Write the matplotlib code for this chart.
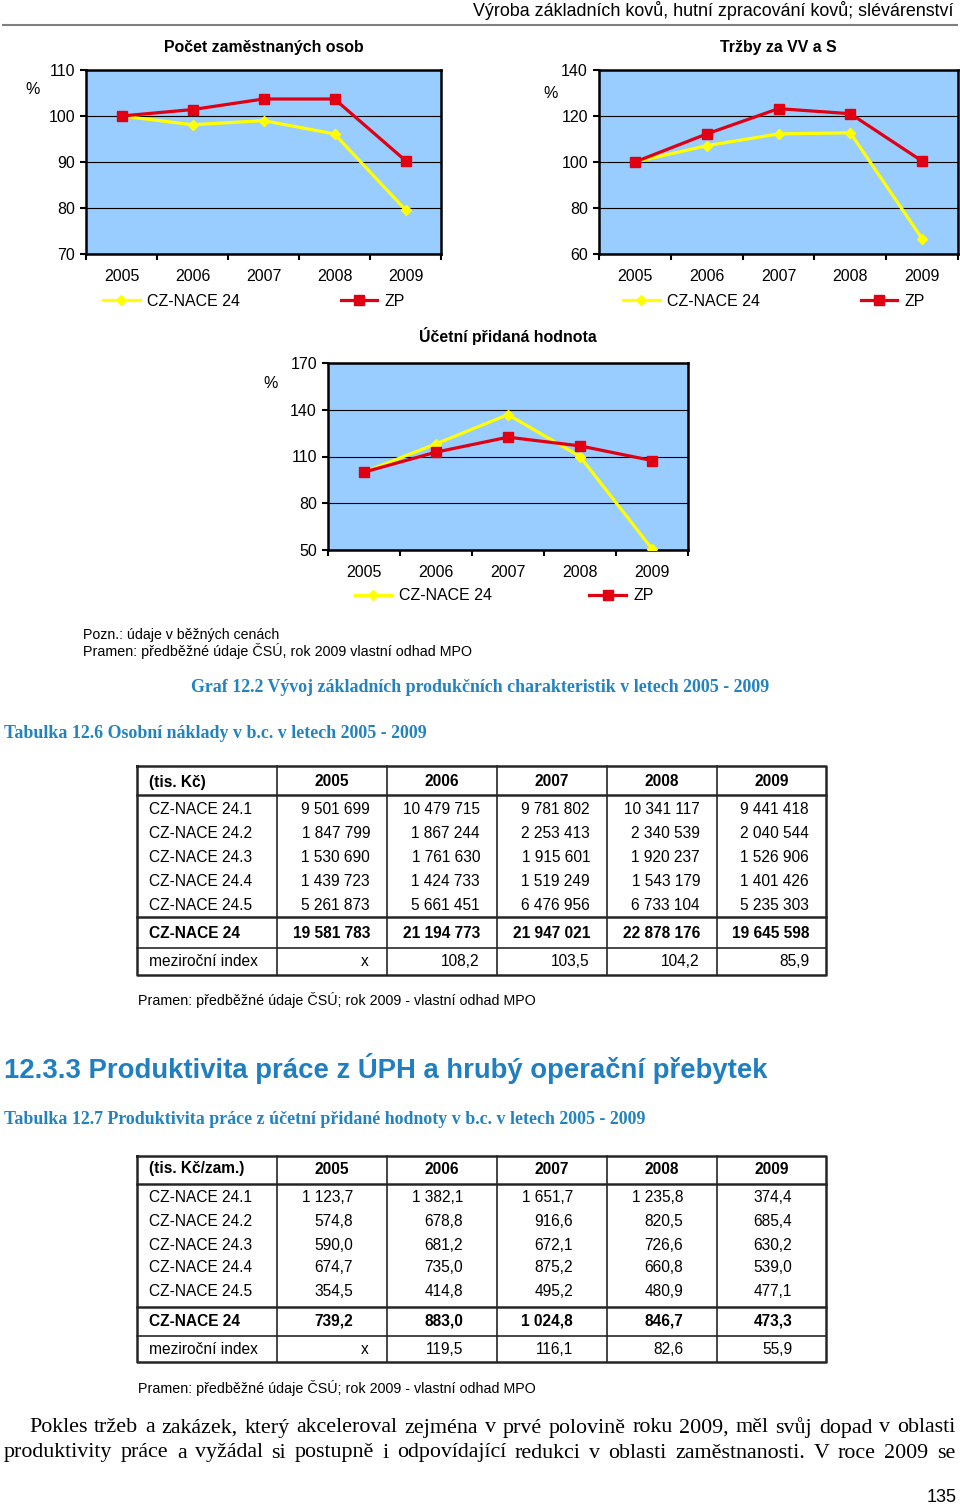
"""
Page 135 rebuild: three index charts (employment, revenue, value added) for CZ-NACE 24,
followed by two tables of personal costs and labour productivity.
"""

import numpy as np
import matplotlib
matplotlib.use("Agg")
import matplotlib.pyplot as plt

plt.rcParams["font.family"] = ["Liberation Sans", "DejaVu Sans"]

W, H, DPI = 960, 1508, 100

years = ["2005", "2006", "2007", "2008", "2009"]

# chart values (index, 2005 = 100)
emp_cz = [100.0, 98.1, 99.0, 96.1, 79.6]
emp_zp = [100.0, 101.4, 103.7, 103.7, 90.3]
rev_cz = [100.0, 107.1, 112.2, 112.7, 66.7]
rev_zp = [100.0, 112.2, 123.2, 121.0, 100.4]
va_cz = [100.0, 118.1, 136.9, 110.0, 50.8]
va_zp = [100.0, 112.8, 122.4, 116.8, 107.4]

emp_ticks = [70, 80, 90, 100, 110]
rev_ticks = [60, 80, 100, 120, 140]
va_ticks = [50, 80, 110, 140, 170]

# table 12.6 (tis. Kc)
t1_rows = ["CZ-NACE 24.1", "CZ-NACE 24.2", "CZ-NACE 24.3", "CZ-NACE 24.4", "CZ-NACE 24.5"]
t1_vals = [
    [9501699, 10479715, 9781802, 10341117, 9441418],
    [1847799, 1867244, 2253413, 2340539, 2040544],
    [1530690, 1761630, 1915601, 1920237, 1526906],
    [1439723, 1424733, 1519249, 1543179, 1401426],
    [5261873, 5661451, 6476956, 6733104, 5235303],
]
t1_total = [19581783, 21194773, 21947021, 22878176, 19645598]
t1_index = [None, 108.2, 103.5, 104.2, 85.9]

# table 12.7 (tis. Kc/zam.)
t2_rows = t1_rows
t2_vals = [
    [1123.7, 1382.1, 1651.7, 1235.8, 374.4],
    [574.8, 678.8, 916.6, 820.5, 685.4],
    [590.0, 681.2, 672.1, 726.6, 630.2],
    [674.7, 735.0, 875.2, 660.8, 539.0],
    [354.5, 414.8, 495.2, 480.9, 477.1],
]
t2_total = [739.2, 883.0, 1024.8, 846.7, 473.3]
t2_index = [None, 119.5, 116.1, 82.6, 55.9]

BLUE = "#1F7FC0"
CAPTION = "#2283BE"

fig = plt.figure(figsize=(W / DPI, H / DPI), dpi=DPI)
page = fig.add_axes([0, 0, 1, 1])
page.set_xlim(0, W)
page.set_ylim(H, 0)
page.axis("off")
renderer = fig.canvas.get_renderer()


def px_axes(left, top, right, bottom):
    return fig.add_axes([left / W, 1 - bottom / H, (right - left) / W, (bottom - top) / H])


def fit_text(x0, x1, y, s, size, **kw):
    t = page.text(x0, y, s, fontsize=size, va="center", ha="left", **kw)
    w = t.get_window_extent(renderer).width
    t.set_fontsize(size * (x1 - x0) / w)
    return t


def justify(x0, x1, y, line, size, **kw):
    words = line.split()
    ts = [page.text(0, y, wd, fontsize=size, va="center", ha="left", **kw) for wd in words]
    widths = [t.get_window_extent(renderer).width for t in ts]
    gap = (x1 - x0 - sum(widths)) / (len(words) - 1)
    x = x0
    for t, w in zip(ts, widths):
        t.set_x(x)
        x += w + gap


def draw_chart(box, title, cz, zp, yticks, title_pad, legend_xy, colsp):
    ax = px_axes(*box)
    x = np.arange(len(years))
    ax.set_facecolor("#99CCFF")
    ax.grid(axis="y", color="black", linewidth=0.8)
    ax.set_axisbelow(True)
    ax.plot(x, cz, color="#FFFF00", linewidth=2.3, marker="D", markersize=5.5,
            markeredgecolor="#FFFF00", label="CZ-NACE 24", zorder=3)
    ax.plot(x, zp, color="#E00012", linewidth=2.3, marker="s", markersize=7.5,
            markeredgecolor="#E00012", label="ZP", zorder=4)
    ax.set_xlim(-0.5, len(years) - 0.5)
    ax.set_ylim(yticks[0], yticks[-1])
    ax.set_yticks(yticks)
    ax.set_xticks(x)
    ax.set_xticklabels(years)
    ax.set_xticks(np.arange(-0.5, len(years)), minor=True)
    ax.tick_params(axis="x", which="major", length=0, pad=10.5, labelsize=11.5)
    ax.tick_params(axis="x", which="minor", length=4.5, width=1.5, direction="out")
    ax.tick_params(axis="y", length=4.5, width=1.5, pad=3.5, labelsize=11.5)
    for s in ax.spines.values():
        s.set_linewidth(1.8)
        s.set_color("black")
    ax.set_title(title, fontsize=11.4, fontweight="bold", pad=title_pad)
    ax.legend(loc="center left", bbox_to_anchor=(legend_xy[0] / W, 1 - legend_xy[1] / H),
              bbox_transform=fig.transFigure, ncol=2, frameon=False, borderpad=0,
              borderaxespad=0, handlelength=2.3, handletextpad=0.45, columnspacing=colsp,
              fontsize=11.5)
    return ax


draw_chart((86, 70, 441, 254), "Počet zaměstnaných osob", emp_cz, emp_zp, emp_ticks, 12.7, (103, 301), 6.3)
draw_chart((599, 70, 958, 254), "Tržby za VV a S", rev_cz, rev_zp, rev_ticks, 12.7, (623, 301), 6.3)
draw_chart((328, 363, 688, 550), "Účetní přidaná hodnota", va_cz, va_zp, va_ticks, 15, (355, 596), 6.1)

for xy in [(33, 89), (551, 94), (271, 383)]:
    page.text(xy[0], xy[1], "%", fontsize=11.5, ha="center", va="center")

# page header
fit_text(473, 957, 11, "Výroba základních kovů, hutní zpracování kovů; slévárenství", 12.5)
page.plot([3, 957], [25, 25], color="#808080", linewidth=1.5)

fit_text(83, 279, 635, "Pozn.: údaje v běžných cenách", 9.5)
fit_text(83, 469, 651, "Pramen: předběžné údaje ČSÚ, rok 2009 vlastní odhad MPO", 9.5)

serif = ["Liberation Serif", "DejaVu Serif"]
fit_text(191, 771, 687, "Graf 12.2 Vývoj základních produkčních charakteristik v letech 2005 - 2009",
         12.5, family=serif, fontweight="bold", color=CAPTION)
fit_text(4, 428, 733, "Tabulka 12.6 Osobní náklady v b.c. v letech 2005 - 2009",
         12.5, family=serif, fontweight="bold", color=CAPTION)
fit_text(4, 766, 1068, "12.3.3 Produktivita práce z ÚPH a hrubý operační přebytek",
         19, fontweight="bold", color=BLUE)
fit_text(4, 648, 1120, "Tabulka 12.7 Produktivita práce z účetní přidané hodnoty v b.c. v letech 2005 - 2009",
         12.5, family=serif, fontweight="bold", color=CAPTION)

col_edges = [137, 277, 387, 497, 607, 717, 826]


def fmt_int(v):
    return f"{v:,}".replace(",", " ")


def fmt_dec(v):
    return f"{v:,.1f}".replace(",", " ").replace(".", ",")


def draw_table(ys, head0, rows, vals, totals, index, fmt, pad):
    top, head_c, head_b, row_cs, tot_l, tot_c, idx_l, idx_c, bot = ys
    lc = "#262626"
    page.plot([col_edges[0], col_edges[-1], col_edges[-1], col_edges[0], col_edges[0]],
              [top, top, bot, bot, top], color=lc, linewidth=1.8)
    for y, lw in [(head_b, 1.8), (tot_l, 1.8), (idx_l, 1.2)]:
        page.plot([col_edges[0], col_edges[-1]], [y, y], color=lc, linewidth=lw)
    for x in col_edges[1:-1]:
        page.plot([x, x], [top, bot], color=lc, linewidth=1.2)
    fs = 11.2
    page.text(col_edges[0] + 12, head_c, head0, fontsize=fs, fontweight="bold", va="center")
    for j, yr in enumerate(years):
        page.text((col_edges[j + 1] + col_edges[j + 2]) / 2, head_c, yr, fontsize=fs,
                  fontweight="bold", ha="center", va="center")
    for name, row, yc in zip(rows, vals, row_cs):
        page.text(col_edges[0] + 12, yc, name, fontsize=fs, va="center")
        for j, v in enumerate(row):
            page.text(col_edges[j + 2] - pad, yc, fmt(v), fontsize=fs, ha="right", va="center")
    page.text(col_edges[0] + 12, tot_c, "CZ-NACE 24", fontsize=fs, fontweight="bold", va="center")
    for j, v in enumerate(totals):
        page.text(col_edges[j + 2] - pad, tot_c, fmt(v), fontsize=fs, fontweight="bold",
                  ha="right", va="center")
    page.text(col_edges[0] + 12, idx_c, "meziroční index", fontsize=fs, va="center")
    for j, v in enumerate(index):
        if v is None:
            page.text(col_edges[j + 2] - 18, idx_c, "x", fontsize=fs, ha="right", va="center")
        else:
            page.text(col_edges[j + 2] - pad, idx_c, fmt_dec(v), fontsize=fs, ha="right", va="center")


draw_table((766, 782, 795, [810, 834, 857, 881, 905], 917, 933, 948, 962, 975),
           "(tis. Kč)", t1_rows, t1_vals, t1_total, t1_index, fmt_int, 17)
fit_text(138, 533, 1000, "Pramen: předběžné údaje ČSÚ; rok 2009 - vlastní odhad MPO", 10)

draw_table((1156, 1169, 1184, [1198, 1221, 1245, 1268, 1292], 1307, 1321, 1336, 1350, 1362),
           "(tis. Kč/zam.)", t2_rows, t2_vals, t2_total, t2_index, fmt_dec, 34)
fit_text(138, 533, 1388, "Pramen: předběžné údaje ČSÚ; rok 2009 - vlastní odhad MPO", 10)

justify(29, 955, 1428, "Pokles tržeb a zakázek, který akceleroval zejména v prvé polovině roku 2009, "
        "měl svůj dopad v oblasti", 15.8, family=serif)
justify(4, 955, 1453, "produktivity práce a vyžádal si postupně i odpovídající redukci v oblasti "
        "zaměstnanosti. V roce 2009 se", 15.8, family=serif)
page.text(957, 1497, "135", fontsize=13, ha="right", va="center")

fig.savefig("out.png", dpi=DPI)
